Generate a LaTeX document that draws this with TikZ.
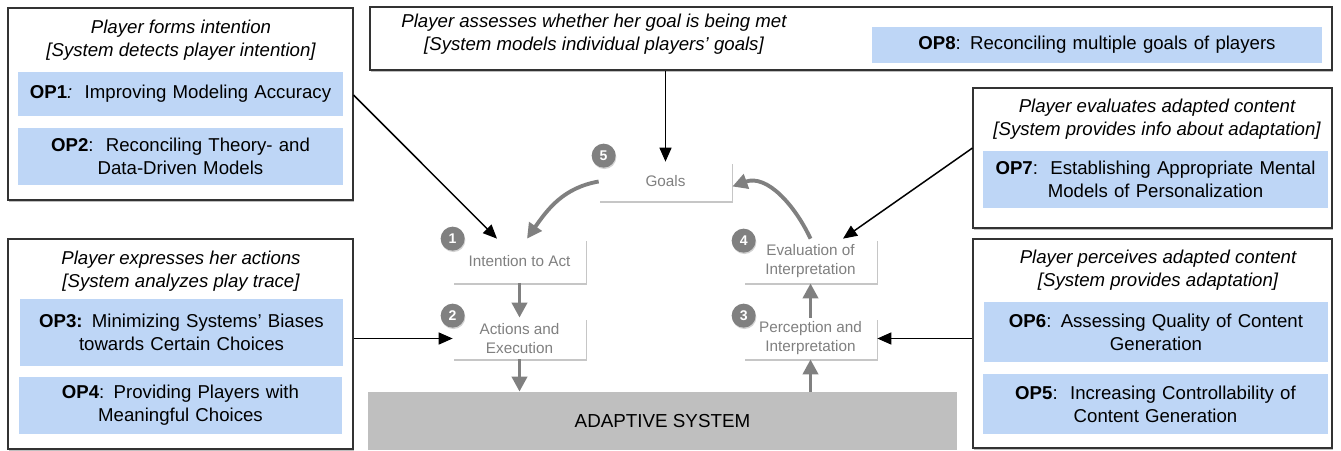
\documentclass[tikz,border=0pt]{standalone}
\usepackage{fontspec}
\setmainfont{Liberation Sans}
\usetikzlibrary{arrows.meta,shadows}
\definecolor{opblue}{RGB}{190,214,246}
\definecolor{stepgray}{RGB}{128,128,128}
\definecolor{sysgray}{RGB}{191,191,191}

\begin{document}
\begin{tikzpicture}[
  outerbox/.style={draw=black!80, fill=white, line width=0.6pt, inner sep=0pt, drop shadow={shadow xshift=0.6pt, shadow yshift=-1.4pt, opacity=0.5}},
  titletext/.style={font=\fontsize{10.6}{13}\selectfont\itshape, align=center, inner sep=0pt},
  opbox/.style={fill=opblue, font=\fontsize{10.6}{13}\selectfont, align=center, inner sep=0pt},
  stepbox/.style={fill=white, minimum width=2.66cm, text=stepgray, font=\fontsize{8.7}{10.8}\selectfont, align=center, inner sep=0pt, drop shadow={shadow xshift=0.6pt, shadow yshift=-1.4pt, opacity=0.45}},
  badge/.style={circle, fill=stepgray, text=white, font=\fontsize{8}{8}\selectfont\bfseries, minimum size=0.48cm, inner sep=0pt, drop shadow={shadow xshift=0.4pt, shadow yshift=-0.8pt, opacity=0.35}},
  garrow/.style={-{Triangle[length=0.3cm, width=0.3cm]}, draw=stepgray, line width=2.2pt},
  karrow/.style={-{Triangle[length=0.28cm, width=0.24cm]}, line width=0.85pt}
]
	\useasboundingbox (0, 0) rectangle (26.82, -9);
	
	% Player forms intention
	\node[outerbox, minimum width=6.9cm, minimum height=3.84cm] (formbox) at (3.61, -2.08) {};
	\node[titletext] (formtitle) at (3.62, -0.8) {Player forms intention\\{}[System detects player intention]};
	\node[opbox, minimum width=6.5cm, text width=6.2cm, minimum height=0.88cm] (op1) at (3.61, -1.88) {\textbf{OP1}\textit{:}\, Improving Modeling Accuracy};
	\node[opbox, minimum width=6.5cm, text width=6.2cm, minimum height=1.14cm] (op2) at (3.61, -3.13) {\textbf{OP2}:\, Reconciling Theory- and\\Data-Driven Models};
	
	% Player assesses goal
	\node[outerbox, minimum width=19.24cm, minimum height=1.26cm] (goalbox) at (17.02, -0.77) {};
	\node[titletext] (goaltitle) at (11.88, -0.69) {Player assesses whether her goal is being met\\{}[System models individual players' goals]};
	\node[opbox, minimum width=9cm, text width=8.7cm, minimum height=0.72cm] (op8) at (21.94, -0.9) {\textbf{OP8}: Reconciling multiple goals of players};
	
	% Player evaluates adapted content
	\node[outerbox, minimum width=7.18cm, minimum height=2.8cm] (evalbox) at (23.05, -3.16) {};
	\node[titletext] (evaltitle) at (23.14, -2.39) {Player evaluates adapted content\\{}[System provides info about adaptation]};
	\node[opbox, minimum width=6.9cm, text width=6.6cm, minimum height=1.14cm] (op7) at (23.11, -3.59) {\textbf{OP7}:\, Establishing Appropriate Mental\\Models of Personalization};
	
	% Player expresses her actions
	\node[outerbox, minimum width=6.9cm, minimum height=4.2cm] (actbox) at (3.61, -6.88) {};
	\node[titletext] (acttitle) at (3.62, -5.43) {Player expresses her actions\\{}[System analyzes play trace]};
	\node[opbox, minimum width=6.46cm, text width=6.2cm, minimum height=1.34cm] (op3) at (3.63, -6.65) {\textbf{OP3:} Minimizing Systems' Biases\\towards Certain Choices};
	\node[opbox, minimum width=6.46cm, text width=6.2cm, minimum height=1.14cm] (op4) at (3.61, -8.11) {\textbf{OP4}: Providing Players with\\Meaningful Choices};
	
	% Player perceives adapted content
	\node[outerbox, minimum width=7.18cm, minimum height=4.18cm] (percbox) at (23.05, -6.87) {};
	\node[titletext] (perctitle) at (23.16, -5.41) {Player perceives adapted content\\{}[System provides adaptation]};
	\node[opbox, minimum width=6.88cm, text width=6.6cm, minimum height=1.2cm] (op6) at (23.12, -6.64) {\textbf{OP6}: Assessing Quality of Content\\Generation};
	\node[opbox, minimum width=6.9cm, text width=6.6cm, minimum height=1.2cm] (op5) at (23.11, -8.08) {\textbf{OP5}:\, Increasing Controllability of\\Content Generation};
	
	% Cycle
	\node[fill=sysgray, minimum width=11.78cm, minimum height=1.16cm, font=\fontsize{10.7}{13}\selectfont] (adaptive) at (13.25, -8.42) {ADAPTIVE SYSTEM};
	\node[stepbox, minimum height=0.78cm] (goals) at (13.31, -3.63) {Goals};
	\node[stepbox, minimum height=0.88cm] (intent) at (10.39, -5.22) {Intention to Act};
	\node[stepbox, minimum height=0.82cm] (actions) at (10.39, -6.77) {Actions and\\Execution};
	\node[stepbox, minimum height=0.88cm] (evalstep) at (16.21, -5.22) {Evaluation of\\Interpretation};
	\node[stepbox, minimum height=0.82cm] (percstep) at (16.21, -6.77) {Perception and\\Interpretation};
	
	\node[badge] (b1) at (intent.north west) {1};
	\node[badge] (b2) at ([yshift=0.04cm]actions.north west) {2};
	\node[badge] (b3) at ([yshift=0.04cm]percstep.north west) {3};
	\node[badge] (b4) at ([yshift=-0.04cm]evalstep.north west) {4};
	\node[badge] (b5) at ([xshift=0.1cm, yshift=0.12cm]goals.north west) {5};
	
	\draw[garrow] (goals.west) to[out=190, in=55] ([xshift=0.15cm]intent.north);
	\draw[garrow] (evalstep.north) to[out=115, in=20] ([yshift=-0.1cm]goals.east);
	\draw[garrow] (intent) -- (actions);
	\draw[garrow] (actions) -- (actions |- adaptive.north);
	\draw[garrow] (percstep |- adaptive.north) -- (percstep);
	\draw[garrow] (percstep) -- (evalstep);
	
	% Connectors from the player boxes
	\draw[karrow] ([yshift=0.18cm]formbox.east) -- ([xshift=-0.45cm]intent.north);
	\draw[karrow] (goals.north |- goalbox.south) -- (goals.north);
	\draw[karrow] ([yshift=0.2cm]evalbox.west) -- ([xshift=0.65cm]evalstep.north);
	\draw[karrow] (actbox.east |- actions) -- (actions.west);
	\draw[karrow] (percbox.west |- percstep) -- (percstep.east);
	
\end{tikzpicture}
\end{document}
